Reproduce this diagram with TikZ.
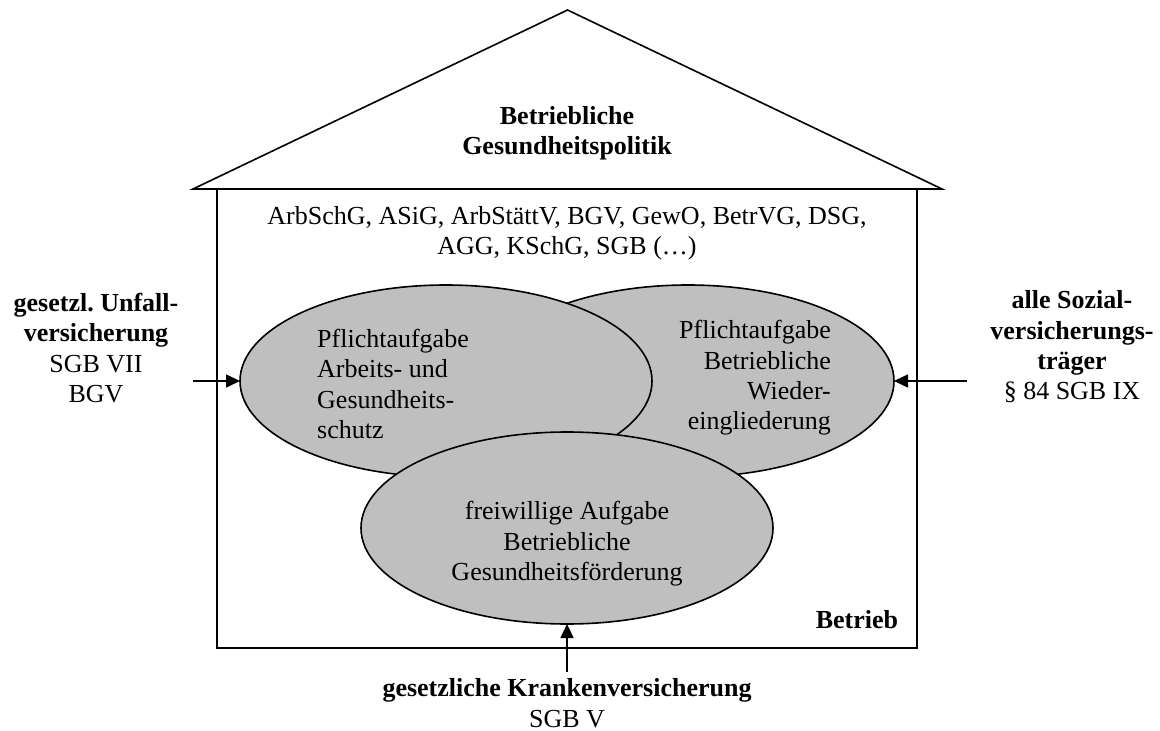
\documentclass[tikz,border=0pt]{standalone}
\usepackage{fontspec}
\setmainfont{Liberation Serif}
\usetikzlibrary{shapes}
\usetikzlibrary{arrows.meta}
\usetikzlibrary{positioning}

\begin{document}
\begin{tikzpicture}[x=0.5pt,y=-0.5pt]
\tikzstyle{task}=[ellipse,draw=black,fill=black!25,line width=0.8pt,
inner sep=0pt,outer sep=0pt,minimum width=206pt,minimum height=96pt]
\tikzstyle{plain}=[inner sep=0pt,font=\fontsize{13}{15.2}\selectfont]
\tikzstyle{heavy}=[inner sep=0pt,font=\fontsize{13}{15.2}\selectfont\bfseries]
\tikzstyle{carrier}=[plain,align=center]
\tikzstyle{feed}=[-{Triangle[length=7pt,width=6.5pt]},line width=0.8pt]

\useasboundingbox (0,0) rectangle (1160,731);

% house
\draw[line width=0.8pt] (193,189) -- (567.5,10) -- (942,189) -- cycle;
\draw[line width=1pt] (217,189) rectangle (917,648);
\node[heavy,align=center] (politik) at (567,133) {Betriebliche\\Gesundheitspolitik};
\node[carrier] (gesetze) at (567,233) {ArbSchG, ASiG, ArbStättV, BGV, GewO, BetrVG, DSG,\\AGG, KSchG, SGB (…)};
\node[heavy] (betrieb) at (857,620) {Betrieb};

% tasks
\node[task] (wiedereing) at (688,381) {};
\node[task] (arbschutz) at (446,381) {};
\node[task] (foerderung) at (567,528) {};
\node[plain,align=left] (arbschutztext) at (393,384)
  {Pflichtaufgabe\\Arbeits- und\\Gesundheits-\\schutz};
\node[plain,align=right] (wiedereingtext) at (755,378)
  {Pflichtaufgabe\\Betriebliche\\Wieder-\\eingliederung};
\node[plain,align=center] (foerderungtext) at (567,544)
  {freiwillige Aufgabe\\Betriebliche\\Gesundheitsförderung};

% carriers
\node[carrier] (unfall) at (96,348)
  {\textbf{gesetzl.\ Unfall-}\\\textbf{versicherung}\\SGB VII\\BGV};
\node[carrier] (sozial) at (1072,347)
  {\textbf{alle Sozial-}\\\textbf{versicherungs-}\\\textbf{träger}\\§ 84 SGB IX};
\node[carrier] (kranken) at (567,703)
  {\textbf{gesetzliche Krankenversicherung}\\SGB V};

\coordinate (unfallin) at (193,381);
\coordinate (sozialin) at (967,381);
\coordinate (krankenin) at (567,672);
\draw[feed] (unfallin) -- (arbschutz.west);
\draw[feed] (sozialin) -- (wiedereing.east);
\draw[feed] (krankenin) -- (foerderung.south);
\end{tikzpicture}
\end{document}
